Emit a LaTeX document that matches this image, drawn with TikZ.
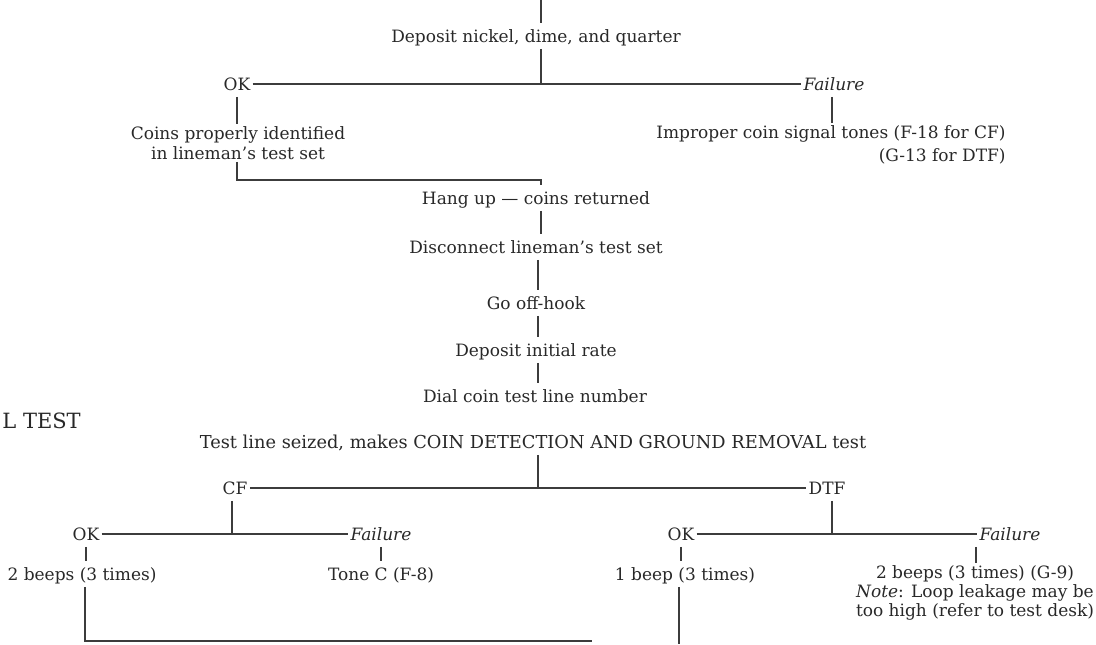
\documentclass[tikz,border=0pt]{standalone}
\usepackage{fontspec}
\setmainfont{DejaVu Serif}
\usepackage{tikz}
\usetikzlibrary{positioning, calc}
\definecolor{inkgray}{RGB}{40,40,40}
\definecolor{wiregray}{RGB}{60,60,60}
\tikzset{
  %% ---- text ----
  lbl/.style  = {inner sep=1pt, text=inkgray,
                 font=\fontsize{8.5}{10}\selectfont,
                 text height=1.6ex, text depth=0.4ex},
  note/.style = {inner sep=1pt, text=inkgray, align=center,
                 font=\fontsize{8.5}{10}\selectfont},
  head/.style = {inner sep=0pt, text=inkgray,
                 font=\fontsize{10.5}{12}\selectfont},
  %% ---- lines ----
  wire/.style = {draw=wiregray, line width=0.55pt},
}

\begin{document}
\begin{tikzpicture}[x=0.5pt, y=-0.5pt]
\useasboundingbox (0,0) rectangle (1096,644);
\coordinate (top) at (541,0);
\node[lbl] (dep1) at (536,36) {Deposit nickel, dime, and quarter};
\coordinate (j1) at (541,84);
\node[lbl] (ok1) at (237,84) {OK};
\node[lbl] (fail1) at (834,84) {\textit{Failure}};
\node[note] (coins) at (238,143) {Coins properly identified\\in lineman's test set};
\node[note, align=right, anchor=east, font=\fontsize{8.5}{11.5}\selectfont] (improper) at (1008,145) {Improper coin signal tones (F-18 for CF)\\(G-13 for DTF)};
\coordinate (b1) at (237,180);
\node[lbl] (hang) at (536,198) {Hang up --- coins returned};
\node[lbl] (disc) at (536,247) {Disconnect lineman's test set};
\coordinate (spine) at (538,0);
\node[lbl] (off) at (536,303) {Go off-hook};
\node[lbl] (init) at (536,350) {Deposit initial rate};
\node[lbl] (dial) at (535,396) {Dial coin test line number};
\node[head, anchor=west] (ltest) at (2,421) {L TEST};
\node[lbl, font=\fontsize{8.9}{10}\selectfont] (seized) at (533,442) {Test line seized, makes COIN DETECTION AND GROUND REMOVAL test};
\coordinate (j2) at (538,488);
\node[lbl] (cf) at (235,488) {CF};
\node[lbl] (dtf) at (827,488) {DTF};
\coordinate (j3) at (232,534);
\node[lbl] (ok2) at (86,534) {OK};
\node[lbl] (fail2) at (381,534) {\textit{Failure}};
\node[lbl] (beeps2) at (82,574) {2 beeps (3 times)};
\node[lbl] (tonec) at (381,574) {Tone C (F-8)};
\coordinate (j4) at (832,534);
\node[lbl] (ok3) at (681,534) {OK};
\node[lbl] (fail3) at (1010,534) {\textit{Failure}};
\coordinate (j5) at (976,0);
\node[lbl] (beep1) at (685,574) {1 beep (3 times)};
\node[note, anchor=north, font=\fontsize{8.5}{9.5}\selectfont] (gbeeps) at (975,563) {2 beeps (3 times) (G-9)\\\textit{Note}: Loop leakage may be\\too high (refer to test desk)};
\coordinate (b2) at (85,641);
\coordinate (b3) at (592,641);
\coordinate (bot) at (679,644);
\draw[wire] (top) -- (top |- dep1.north);
\draw[wire] (dep1.south -| j1) -- (j1);
\draw[wire] (ok1) -- (fail1);
\draw[wire] (ok1.south) -- (ok1.south |- coins.north);
\draw[wire] (fail1.south -| 832,0) -- (improper.north -| 832,0);
\draw[wire] (coins.south -| b1) -- (b1) -| (hang.north -| j1);
\draw[wire] (hang.south -| j1) -- (disc.north -| j1);
\draw[wire] (disc.south -| spine) -- (off.north -| spine);
\draw[wire] (off.south -| spine) -- (init.north -| spine);
\draw[wire] (init.south -| spine) -- (dial.north -| spine);
\draw[wire] (seized.south -| j2) -- (j2);
\draw[wire] (cf) -- (dtf);
\draw[wire] (cf.south -| j3) -- (j3);
\draw[wire] (ok2) -- (fail2);
\draw[wire] (ok2.south) -- (beeps2.north -| ok2.south);
\draw[wire] (fail2.south) -- (tonec.north -| fail2.south);
\draw[wire] (dtf.south -| j4) -- (j4);
\draw[wire] (ok3) -- (fail3);
\draw[wire] (ok3.south) -- (beep1.north -| ok3.south);
\draw[wire] (fail3.south -| j5) -- (gbeeps.north -| j5);
\draw[wire] (beeps2.south -| b2) -- (b2) -- (b3);
\draw[wire] (beep1.south -| bot) -- (bot);
\end{tikzpicture}
\end{document}
